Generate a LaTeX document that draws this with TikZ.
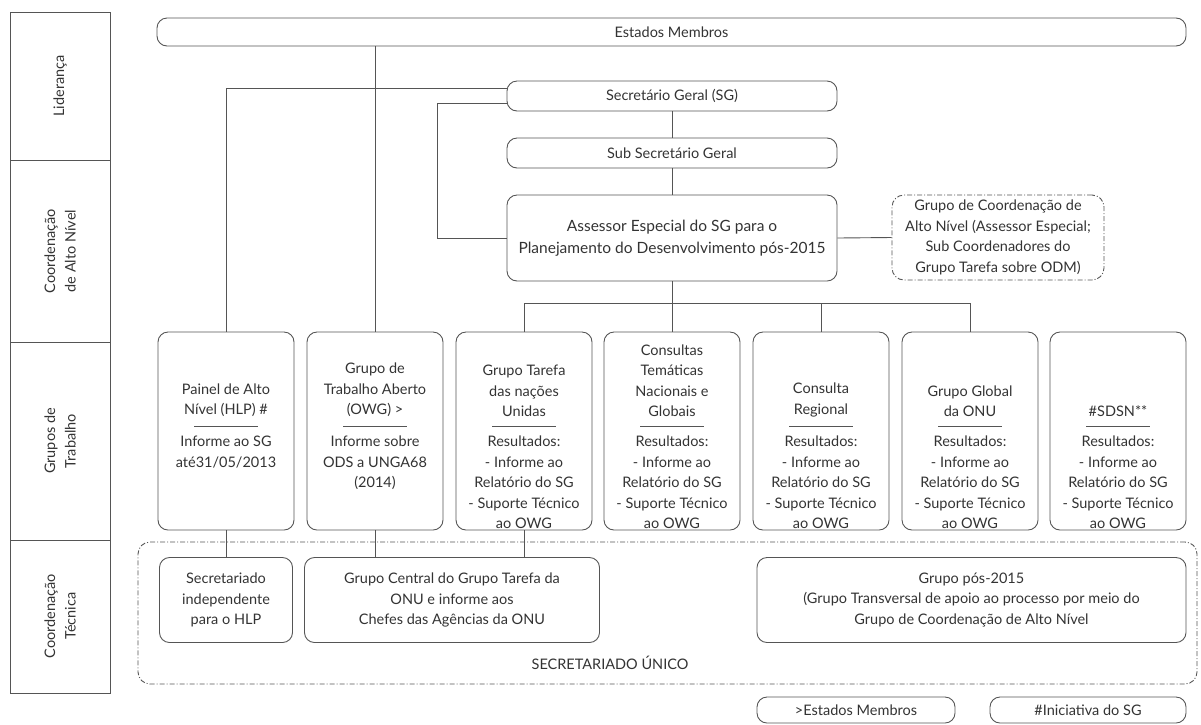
\documentclass[tikz,border=0pt]{standalone}
\usepackage{fontspec}
\setmainfont{Lato}
\definecolor{linegray}{HTML}{555555}
\definecolor{textgray}{HTML}{333333}

\begin{document}
\begin{tikzpicture}[x=1pt,y=-1pt,
    linha/.style={draw=linegray, line width=0.9pt},
    caixa/.style={draw=linegray, line width=0.9pt, rounded corners=10pt, align=center,
                  text=textgray, inner sep=0pt, font=\fontsize{14.5}{20.5}\selectfont},
    texto/.style={align=center, text=textgray, inner sep=0pt, font=\fontsize{14.5}{20.5}\selectfont},
    tracejado/.style={draw=linegray, line width=0.9pt, rounded corners=12pt,
                      dash pattern=on 5pt off 2pt on 1pt off 2pt}]
    \useasboundingbox (0,0) rectangle (1201,724);

    % Left column
    \draw[linha] (10,12) rectangle (110,693);
    \draw[linha] (10,160) -- (110,160);
    \draw[linha] (10,342) -- (110,342);
    \draw[linha] (10,540) -- (110,540);
    \node[texto, rotate=90] (lid) at (60,86) {Liderança};
    \node[texto, rotate=90] (cal) at (60,251) {Coordenação\\de Alto Nível};
    \node[texto, rotate=90] (gtr) at (60,441) {Grupos de\\Trabalho};
    \node[texto, rotate=90] (ctc) at (60,616) {Coordenação\\Técnica};

    % Leadership
    \node[caixa, minimum width=1029, minimum height=28] (estados) at (671.5,32) {Estados Membros};
    \node[caixa, minimum width=330, minimum height=30] (sg) at (672,96) {Secretário Geral (SG)};
    \node[caixa, minimum width=330, minimum height=30] (sub) at (672,153) {Sub Secretário Geral};

    % High level coordination
    \node[caixa, minimum width=330, minimum height=86, font=\fontsize{15.5}{22}\selectfont] (assessor) at (672,238)
        {Assessor Especial do SG para o\\Planejamento do Desenvolvimento pós-2015};
    \node[caixa, tracejado, minimum width=212, minimum height=85] (galto) at (998,237.5)
        {Grupo de Coordenação de\\Alto Nível (Assessor Especial;\\Sub Coordenadores do\\Grupo Tarefa sobre ODM)};

    % Working groups
    \foreach \i/\cx in {1/226,2/375,3/524,4/672,5/821,6/970,7/1118}
    {
        \node[caixa, minimum width=136, minimum height=198] (g\i) at (\cx,431) {};
        \draw[linha] (\cx-32,426) -- (\cx+32,426);
    }
    \node[texto, anchor=south] (t1) at (226,417) {Painel de Alto\\Nível (HLP) \#};
    \node[texto, anchor=south] (t2) at (375,417) {Grupo de\\Trabalho Aberto\\(OWG) >};
    \node[texto, anchor=south] (t3) at (524,417) {Grupo Tarefa\\das nações\\Unidas};
    \node[texto, anchor=south] (t4) at (672,417) {Consultas\\Temáticas\\Nacionais e\\Globais};
    \node[texto, anchor=south] (t5) at (821,417) {Consulta\\Regional};
    \node[texto, anchor=south] (t6) at (970,417) {Grupo Global\\da ONU};
    \node[texto, anchor=south] (t7) at (1118,417) {\#SDSN**};
    \node[texto, anchor=north] (r1) at (226,436) {Informe ao SG\\até31/05/2013};
    \node[texto, anchor=north] (r2) at (375,436) {Informe sobre\\ODS a UNGA68\\(2014)};
    \foreach \i/\cx in {3/524,4/672,5/821,6/970,7/1118}
        \node[texto, anchor=north] (r\i) at (\cx,436)
            {Resultados:\\- Informe ao\\Relatório do SG\\- Suporte Técnico\\ao OWG};

    % Technical coordination
    \node[tracejado, minimum width=1059, minimum height=142] (unico) at (667.5,613) {};
    \node[texto] (unicolabel) at (610,663) {SECRETARIADO ÚNICO};
    \node[caixa, minimum width=133, minimum height=85] (sec) at (226,600)
        {Secretariado\\independente\\para o HLP};
    \node[caixa, minimum width=295, minimum height=85] (central) at (452,600)
        {Grupo Central do Grupo Tarefa da\\ONU e informe aos\\Chefes das Agências da ONU};
    \node[caixa, minimum width=429, minimum height=85] (pos) at (971.5,600)
        {Grupo pós-2015\\(Grupo Transversal de apoio ao processo por meio do\\Grupo de Coordenação de Alto Nível};

    % Legend
    \node[caixa, minimum width=198, minimum height=26] (leg1) at (856,710) {>Estados Membros};
    \node[caixa, minimum width=196, minimum height=26] (leg2) at (1088,710) {\#Iniciativa do SG};

    % Connectors
    \draw[linha] (estados.south -| g2.north) -- (g2.north);
    \draw[linha] ([yshift=8pt]sg.west) -| (g1.north);
    \draw[linha] ([yshift=-7pt]sg.west) -- ++(-69,0) |- (assessor.west);
    \draw[linha] (sg.south) -- (sub.north);
    \draw[linha] (sub.south) -- (assessor.north);
    \draw[linha] (assessor.east) -- (galto.west);
    \draw[linha] (assessor.south) -- (g4.north);
    \path (assessor.south) ++(0,22) coordinate (hub);
    \draw[linha] (g3.north) |- (hub) -| (g6.north);
    \draw[linha] (g5.north) -- (g5.north |- hub);
    \draw[linha] (g1.south) -- (sec.north);
    \draw[linha] (g2.south) -- (g2.south |- central.north);
    \draw[linha] (g3.south) -- (g3.south |- central.north);
\end{tikzpicture}
\end{document}
